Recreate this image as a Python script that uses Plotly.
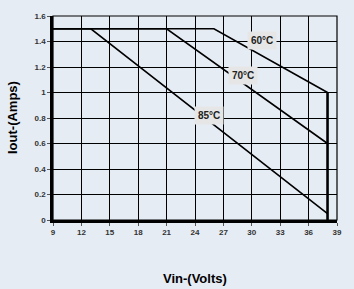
import plotly.graph_objects as go

# Data
vin_60 = [9, 26, 38, 38]
iout_60 = [1.5, 1.5, 1.0, 0.0]
vin_70 = [9, 21, 38]
iout_70 = [1.5, 1.5, 0.6]
vin_85 = [9, 13, 38]
iout_85 = [1.5, 1.5, 0.05]

labels = ["60°C", "70°C", "85°C"]
label_x = [31.1, 29.1, 25.5]
label_y = [1.41, 1.13, 0.82]

x_ticks = [9, 12, 15, 18, 21, 24, 27, 30, 33, 36, 39]
y_ticks = [0, 0.2, 0.4, 0.6, 0.8, 1, 1.2, 1.4, 1.6]
y_ticktext = ["0", "0.2", "0.4", "0.6", "0.8", "1", "1.2", "1.4", "1.6"]

BG = "#e6ecf4"
fig = go.Figure()
line_style = dict(color="black", width=1.6)
fig.add_trace(go.Scatter(x=vin_60[:3], y=iout_60[:3], mode="lines", line=line_style, showlegend=False))
fig.add_trace(go.Scatter(x=vin_60[2:], y=iout_60[2:], mode="lines", line=dict(color="black", width=2.6), showlegend=False))
fig.add_trace(go.Scatter(x=vin_70, y=iout_70, mode="lines", line=line_style, showlegend=False))
fig.add_trace(go.Scatter(x=vin_85, y=iout_85, mode="lines", line=line_style, showlegend=False))

for t, x, y in zip(labels, label_x, label_y):
    fig.add_annotation(x=x, y=y, text="<b>%s</b>" % t, showarrow=False,
                       font=dict(family="Liberation Sans, Arial", size=10, color="#222"),
                       bgcolor="#e6e6e6", borderpad=3)

fig.add_shape(type="rect", xref="paper", yref="paper", x0=0, y0=0, x1=1, y1=1,
              line=dict(color="black", width=1.2), fillcolor="rgba(0,0,0,0)", layer="above")

font = dict(family="Liberation Sans, Arial", size=8, color="#333")
fig.update_xaxes(range=[9, 39], tickmode="array", tickvals=x_ticks, ticktext=["<b>%d</b>" % v for v in x_ticks],
                 showgrid=True, gridcolor="#000", gridwidth=1,
                 showline=True, linecolor="black", linewidth=2.5,
                 ticks="outside", ticklen=3, tickcolor="#555", tickfont=font,
                 zeroline=False, fixedrange=True)
fig.update_yaxes(range=[0, 1.6], tickmode="array", tickvals=y_ticks, ticktext=["<b>%s</b>" % v for v in y_ticktext],
                 showgrid=True, gridcolor="#000", gridwidth=1,
                 showline=True, linecolor="black", linewidth=2.5,
                 ticks="outside", ticklen=3, tickcolor="#555", tickfont=font,
                 zeroline=False, fixedrange=True)

fig.add_annotation(xref="paper", yref="paper", x=0.5, y=0, yshift=-58, xanchor="center", yanchor="middle",
                   text="<b>Vin-(Volts)</b>", showarrow=False,
                   font=dict(family="Liberation Sans, Arial", size=13, color="black"))
fig.add_annotation(xref="paper", yref="paper", x=0, xshift=-41, y=0.5, yshift=0, xanchor="center", yanchor="middle",
                   text="<b>Iout-(Amps)</b>", showarrow=False, textangle=-90,
                   font=dict(family="Liberation Sans, Arial", size=13, color="black"))

fig.update_layout(width=354, height=289, margin=dict(l=53, r=15, t=16, b=69),
                  paper_bgcolor=BG, plot_bgcolor=BG, showlegend=False)

fig.write_html("out.html", config={"displayModeBar": False},
               post_script="document.body.style.margin='0';document.body.style.background='%s';" % BG)
